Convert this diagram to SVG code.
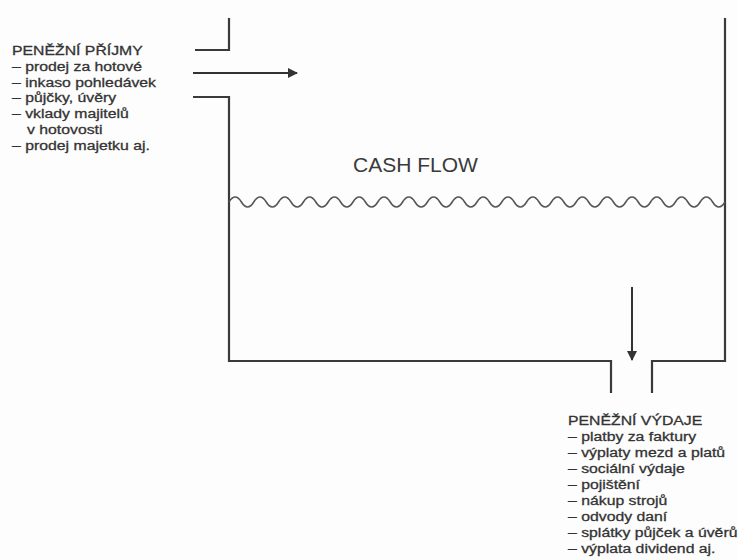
<svg xmlns="http://www.w3.org/2000/svg" width="738" height="560" viewBox="0 0 738 560">
<style>
.wall{fill:none;stroke:#3a3a3a;stroke-width:2.2;stroke-linejoin:miter}
.wave{fill:none;stroke:#555;stroke-width:1.6}
.arr{fill:none;stroke:#333;stroke-width:2}
.t{font-family:"Liberation Sans",Arial,sans-serif;font-size:13.5px;fill:#333;stroke:#333;stroke-width:0.3}
.big{font-family:"Liberation Sans",Arial,sans-serif;font-size:21px;fill:#3a3a3a}
</style>
<defs>
<marker id="ah" viewBox="0 0 10 10" refX="9" refY="5" markerWidth="5" markerHeight="5" orient="auto" markerUnits="strokeWidth">
<path d="M0,0 L10,5 L0,10 z" fill="#333"/>
</marker>
</defs>
<rect width="738" height="560" fill="#fdfdfd"/>
<g id="tank">
<path class="wall" d="M229,18 L229,50 L195,50"/>
<path class="wall" d="M193,97 L229,97 L229,361 L611,361 L611,393"/>
<path class="wall" d="M652,393 L652,361 L725,361 L725,18"/>
<path class="wave" d="M229,202 q6.2,-10 12.4,0 t12.4,0 t12.4,0 t12.4,0 t12.4,0 t12.4,0 t12.4,0 t12.4,0 t12.4,0 t12.4,0 t12.4,0 t12.4,0 t12.4,0 t12.4,0 t12.4,0 t12.4,0 t12.4,0 t12.4,0 t12.4,0 t12.4,0 t12.4,0 t12.4,0 t12.4,0 t12.4,0 t12.4,0 t12.4,0 t12.4,0 t12.4,0 t12.4,0 t12.4,0 t12.4,0 t12.4,0 t12.4,0 t12.4,0 t12.4,0 t12.4,0 t12.4,0 t12.4,0 t12.4,0 t12.4,0"/>
<text class="big" x="353" y="172">CASH FLOW</text>
</g>
<g id="connectors">
<path class="arr" d="M193,73 L297,73" marker-end="url(#ah)"/>
<path class="arr" d="M632,287 L632,360" marker-end="url(#ah)"/>
</g>
<g id="prijmy" transform="scale(1.17,1)">
<text class="t" x="10.3" y="55">PENĚŽNÍ PŘÍJMY</text>
<text class="t" x="10.3" y="70.8">– prodej za hotové</text>
<text class="t" x="10.3" y="86.6">– inkaso pohledávek</text>
<text class="t" x="10.3" y="102.4">– půjčky, úvěry</text>
<text class="t" x="10.3" y="118.2">– vklady majitelů</text>
<text class="t" x="23.1" y="134">v hotovosti</text>
<text class="t" x="10.3" y="149.8">– prodej majetku aj.</text>
</g>
<g id="vydaje" transform="scale(1.17,1)">
<text class="t" x="485.5" y="425">PENĚŽNÍ VÝDAJE</text>
<text class="t" x="485.5" y="441">– platby za faktury</text>
<text class="t" x="485.5" y="457">– výplaty mezd a platů</text>
<text class="t" x="485.5" y="473">– sociální výdaje</text>
<text class="t" x="485.5" y="489">– pojištění</text>
<text class="t" x="485.5" y="505">– nákup strojů</text>
<text class="t" x="485.5" y="521">– odvody daní</text>
<text class="t" x="485.5" y="537">– splátky půjček a úvěrů</text>
<text class="t" x="485.5" y="553">– výplata dividend aj.</text>
</g>
</svg>
